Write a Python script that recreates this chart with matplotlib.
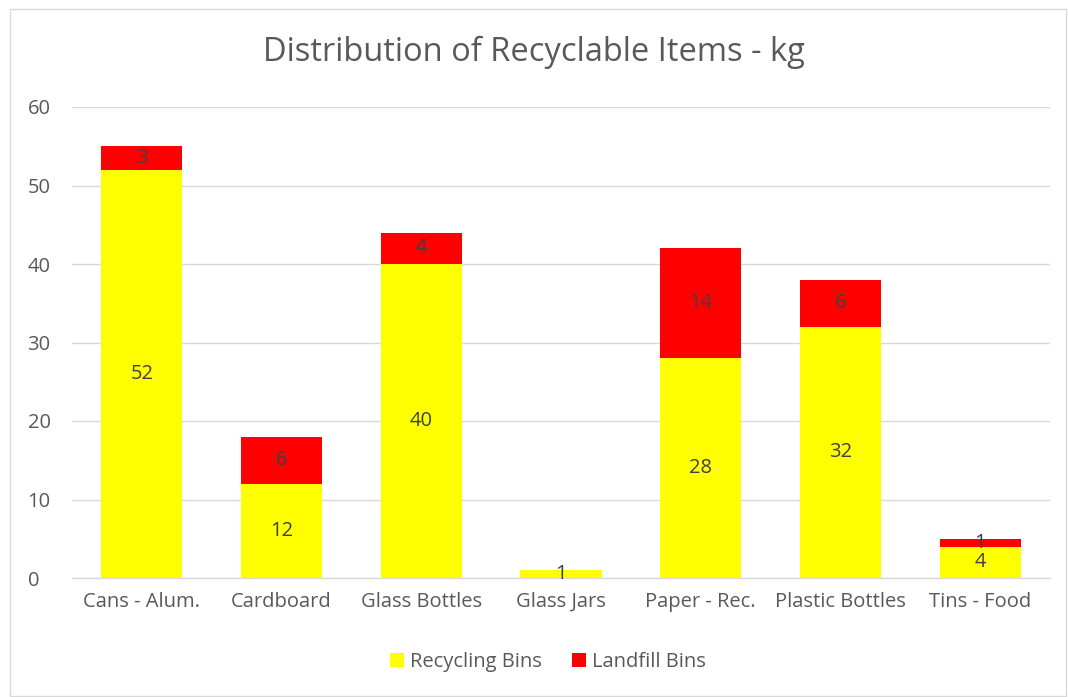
import matplotlib
matplotlib.use("Agg")
import matplotlib.pyplot as plt
from matplotlib.patches import Rectangle

categories = ["Cans - Alum.", "Cardboard", "Glass Bottles", "Glass Jars",
              "Paper - Rec.", "Plastic Bottles", "Tins - Food"]
recycling = [52, 12, 40, 1, 28, 32, 4]
landfill = [3, 6, 4, 0, 14, 6, 1]
yticks = [0, 10, 20, 30, 40, 50, 60]

plt.rcParams['font.family'] = ['Open Sans', 'DejaVu Sans']
txt = '#595959'

fig = plt.figure(figsize=(10.68, 6.97), dpi=100)
fig.patches.append(Rectangle((10/1068, 1-696/697), 1056/1068, 687/697,
                             transform=fig.transFigure, fill=False,
                             edgecolor='#d9d9d9', linewidth=1))
ax = fig.add_axes([72/1068, 1-578/697, 978/1068, 471/697])

x = list(range(len(categories)))
w = 0.58
b1 = ax.bar(x, recycling, width=w, color='#ffff00', zorder=2, label='Recycling Bins')
b2 = ax.bar(x, landfill, width=w, bottom=recycling, color='#ff0000', zorder=2, label='Landfill Bins')

for i in x:
    if recycling[i]:
        ax.text(i, recycling[i] / 2, str(recycling[i]), ha='center', va='center',
                fontsize=14.5, color='#404040', zorder=3)
    if landfill[i]:
        ax.text(i, recycling[i] + landfill[i] / 2, str(landfill[i]), ha='center', va='center',
                fontsize=14.5, color='#404040', zorder=3)

ax.set_xlim(-0.5, len(categories) - 0.5)
ax.set_ylim(0, 60)
ax.set_yticks(yticks)
ax.set_xticks(x)
ax.set_xticklabels(categories)
ax.tick_params(axis='both', length=0, labelsize=14.5, labelcolor=txt)
ax.tick_params(axis='y', pad=32)
ax.tick_params(axis='x', pad=10)
for lab in ax.get_yticklabels():
    lab.set_horizontalalignment('left')
ax.yaxis.grid(True, color='#d9d9d9', linewidth=1, zorder=0)
for s in ['top', 'right', 'left']:
    ax.spines[s].set_visible(False)
ax.spines['bottom'].set_color('#d9d9d9')
ax.spines['bottom'].set_linewidth(1)

fig.text(0.5, 1 - 52/697, "Distribution of Recyclable Items - kg", ha='center', va='center',
         fontsize=23.5, color=txt)

fig.legend(handles=[b1, b2], loc='center', bbox_to_anchor=(548/1068, 1 - 662/697), ncol=2,
           frameon=False, fontsize=14.5, labelcolor=txt, handlelength=0.7, handleheight=0.7,
           handletextpad=0.3, columnspacing=1.5)

fig.savefig("out.png", dpi=100)
